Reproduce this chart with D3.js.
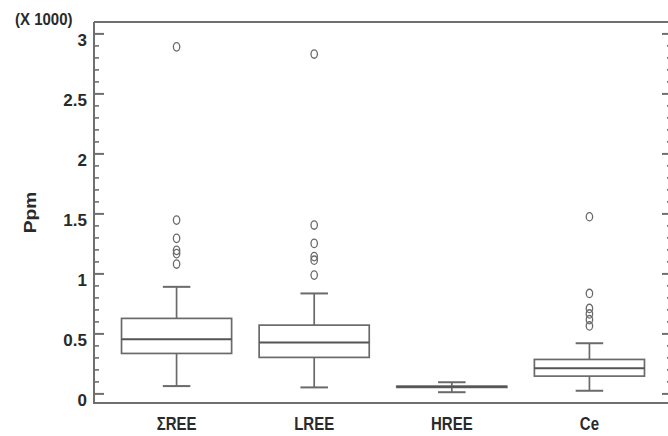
<!DOCTYPE html>
<html>
<head>
<meta charset="utf-8">
<script src="https://cdn.jsdelivr.net/npm/d3@7"></script>
<style>
  html, body { margin: 0; padding: 0; background: #fff; }
  svg { display: block; }
  text { font-family: "Liberation Sans", Arial, sans-serif; font-weight: bold; fill: #2a2a2a; }
</style>
</head>
<body>
<svg id="chart" width="668" height="436"></svg>
<script>
// ---- data (ppm) ----
const categories = ["ΣREE", "LREE", "HREE", "Ce"];
const whiskerLow  = [61, 50, 10, 22];
const q1          = [333, 300, 50, 144];
const median      = [452, 425, 55, 210];
const q3          = [625, 569, 60, 283];
const whiskerHigh = [888, 833, 93, 418];
const outliers = [
  [2888, 1444, 1292, 1192, 1165, 1078],
  [2828, 1403, 1250, 1140, 1110, 986],
  [],
  [1472, 833, 708, 662, 614, 562]
];
const yTickValues = [0, 500, 1000, 1500, 2000, 2500, 3000];
const yTickLabels = ["0", "0.5", "1", "1.5", "2", "2.5", "3"];
const yTitle = "Ppm";
const scaleNote = "(X 1000)";

// ---- layout ----
const svg = d3.select("#chart");
const pL = 94, pR = 672, pT = 22, pB = 403;
const lineCol = "#6f6f6f";

const y = d3.scaleLinear().domain([-80, 3095]).range([pB, pT]);
const x = d3.scalePoint().domain(categories).range([pL, pR]).padding(0.6);
const step = x.step();
const boxW = step * 0.8, capW = step * 0.2;

const minorVals = y.ticks(30).filter(v => !yTickValues.includes(v));

// frame lines
svg.append("line").attr("x1", pL).attr("x2", pR).attr("y1", pT).attr("y2", pT)
  .attr("stroke", lineCol).attr("stroke-width", 2);
svg.append("line").attr("x1", pL - 1).attr("x2", pR).attr("y1", pB).attr("y2", pB)
  .attr("stroke", lineCol).attr("stroke-width", 2);

// left axis major
const gL = svg.append("g").attr("transform", `translate(${pL},0)`)
  .call(d3.axisLeft(y).tickValues(yTickValues).tickFormat((d, i) => yTickLabels[i])
    .tickSizeInner(-10).tickSizeOuter(0).tickPadding(7));
gL.select(".domain").attr("stroke", lineCol).attr("stroke-width", 2)
  .attr("d", `M0,${pT}V${pB + 1}`);
gL.selectAll(".tick line").attr("stroke", lineCol).attr("stroke-width", 2);
gL.selectAll(".tick text").attr("dy", 12.5).attr("font-size", 17)
  .attr("font-family", null).attr("fill", "#2a2a2a");

// left axis minor
const gLm = svg.append("g").attr("transform", `translate(${pL},0)`)
  .call(d3.axisLeft(y).tickValues(minorVals).tickFormat("").tickSizeInner(-5).tickSizeOuter(0));
gLm.select(".domain").remove();
gLm.selectAll(".tick line").attr("stroke", lineCol).attr("stroke-width", 1.6);

// right axis
const gR = svg.append("g").attr("transform", `translate(${pR},0)`)
  .call(d3.axisRight(y).tickValues(yTickValues).tickFormat("").tickSizeInner(-10).tickSizeOuter(0));
gR.select(".domain").attr("stroke", lineCol).attr("stroke-width", 2);
gR.selectAll(".tick line").attr("stroke", lineCol).attr("stroke-width", 2);
const gRm = svg.append("g").attr("transform", `translate(${pR},0)`)
  .call(d3.axisRight(y).tickValues(minorVals).tickFormat("").tickSizeInner(-5).tickSizeOuter(0));
gRm.select(".domain").remove();
gRm.selectAll(".tick line").attr("stroke", lineCol).attr("stroke-width", 1.6);

// category labels
svg.selectAll("text.cat").data(categories).join("text")
  .attr("class", "cat")
  .attr("transform", d => `translate(${x(d)},430) scale(1,1.24)`)
  .attr("text-anchor", "middle").attr("font-size", 15)
  .text(d => d);

// y title & scale note
svg.append("text")
  .attr("transform", `translate(36,${(pT + pB) / 2}) scale(1,1.2) rotate(-90)`)
  .attr("text-anchor", "middle").attr("font-size", 16).text(yTitle);
svg.append("text")
  .attr("transform", "translate(15,25) scale(1,1.08)")
  .attr("font-size", 15).text(scaleNote);

// boxes
const boxCol = "#6a6a6a";
const g = svg.append("g");
categories.forEach((c, i) => {
  const cx = x(c);
  g.append("line").attr("x1", cx).attr("x2", cx).attr("y1", y(q3[i])).attr("y2", y(whiskerHigh[i]))
    .attr("stroke", boxCol).attr("stroke-width", 1.7);
  g.append("line").attr("x1", cx).attr("x2", cx).attr("y1", y(q1[i])).attr("y2", y(whiskerLow[i]))
    .attr("stroke", boxCol).attr("stroke-width", 1.7);
  [whiskerHigh[i], whiskerLow[i]].forEach(v => {
    g.append("line").attr("x1", cx - capW / 2).attr("x2", cx + capW / 2).attr("y1", y(v)).attr("y2", y(v))
      .attr("stroke", boxCol).attr("stroke-width", 2);
  });
  g.append("rect").attr("x", cx - boxW / 2).attr("width", boxW)
    .attr("y", y(q3[i])).attr("height", Math.max(0.5, y(q1[i]) - y(q3[i])))
    .attr("fill", "none").attr("stroke", boxCol).attr("stroke-width", 1.7);
  g.append("line").attr("x1", cx - boxW / 2).attr("x2", cx + boxW / 2)
    .attr("y1", y(median[i])).attr("y2", y(median[i]))
    .attr("stroke", "#555").attr("stroke-width", 2);
  g.selectAll(null).data(outliers[i]).join("ellipse")
    .attr("cx", cx).attr("cy", d => y(d)).attr("rx", 3.2).attr("ry", 4.2)
    .attr("fill", "none").attr("stroke", "#6a6a6a").attr("stroke-width", 1.3);
});
</script>
</body>
</html>
